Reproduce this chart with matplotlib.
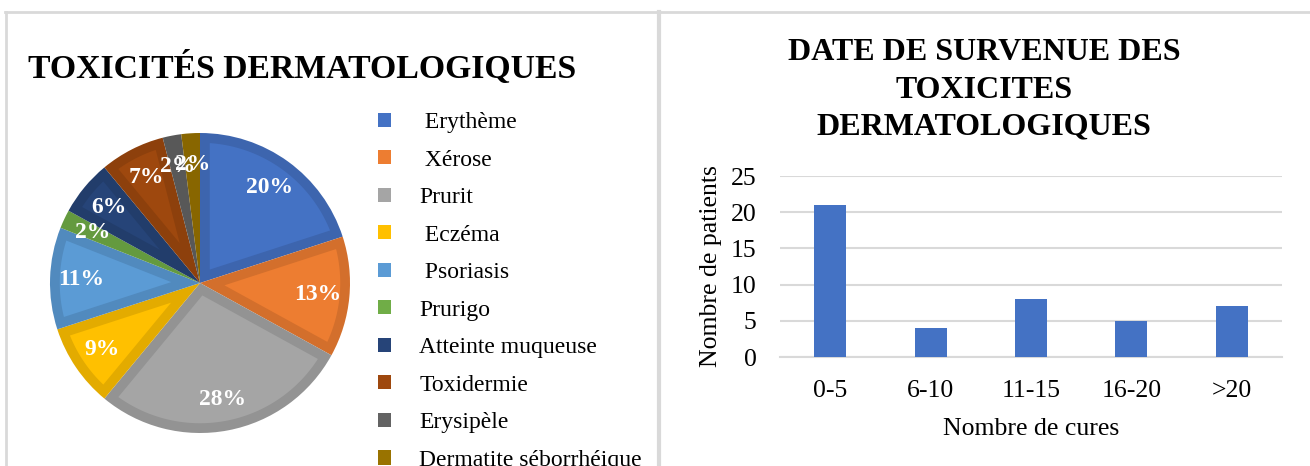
import matplotlib
matplotlib.use("Agg")
import numpy as np
import matplotlib.pyplot as plt
from matplotlib.patches import Patch, Polygon
from matplotlib.lines import Line2D
import matplotlib.colors as mcolors

plt.rcParams['font.family'] = ['Liberation Serif', 'DejaVu Serif']

# ---- data ----
pie_categories = [" Erythème", " Xérose", "Prurit", " Eczéma", " Psoriasis", "Prurigo",
                  "Atteinte muqueuse", "Toxidermie", "Erysipèle", "Dermatite séborrhéique"]
pie_values = [20, 13, 28, 9, 11, 2, 6, 7, 2, 2]
pie_colors = ["#4472C4", "#ED7D31", "#A5A5A5", "#FFC000", "#5B9BD5", "#70AD47",
              "#264478", "#9E480E", "#636363", "#997300"]

bar_categories = ["0-5", "6-10", "11-15", "16-20", ">20"]
bar_values = [21, 4, 8, 5, 7]
bar_color = "#4472C4"
y_ticks = [0, 5, 10, 15, 20, 25]

W, H = 1310, 466
fig = plt.figure(figsize=(W / 100, H / 100), dpi=100)


def rect(x0, y0, x1, y1):
    return [x0 / W, 1 - y1 / H, (x1 - x0) / W, (y1 - y0) / H]


def darker(c, f=0.89):
    r, g, b = mcolors.to_rgb(c)
    return (r * f, g * f, b * f)


# ---- panel frames ----
frame_col = "#D9D9D9"
fig.add_artist(Line2D([5 / W, 1], [1 - 12 / H, 1 - 12 / H], color=frame_col, lw=2, transform=fig.transFigure))
fig.add_artist(Line2D([6 / W, 6 / W], [0, 1 - 12 / H], color=frame_col, lw=2, transform=fig.transFigure))
fig.add_artist(Line2D([659 / W, 659 / W], [0, 1 - 12 / H], color=frame_col, lw=3, transform=fig.transFigure))

# ---- pie ----
axp = fig.add_axes(rect(50, 133, 350, 433))
wedges, texts, autotexts = axp.pie(
    pie_values, colors=[darker(c) for c in pie_colors], startangle=90, counterclock=False,
    autopct=lambda p: f"{p:.0f}%", pctdistance=0.79, radius=1,
    wedgeprops=dict(linewidth=0),
    textprops=dict(color="white", fontsize=17, fontweight="bold", zorder=5))

# inner (lighter) bevel region of each wedge, inset from the wedge edges
inset = 0.065
for w, c in zip(wedges, pie_colors):
    a1, a2 = np.radians(w.theta1), np.radians(w.theta2)
    R = w.r - inset
    half = (a2 - a1) / 2
    apex_d = inset / np.sin(half) if half < np.pi / 2 else 0.0
    delta = np.arcsin(inset / R)
    if apex_d >= R or a1 + delta >= a2 - delta:
        continue
    mid = (a1 + a2) / 2
    cx, cy = w.center
    apex = (cx + apex_d * np.cos(mid), cy + apex_d * np.sin(mid))
    ang = np.linspace(a1 + delta, a2 - delta, 80)
    pts = [apex] + [(cx + R * np.cos(t), cy + R * np.sin(t)) for t in ang]
    axp.add_patch(Polygon(pts, closed=True, facecolor=c, edgecolor="none", zorder=2))
for t in autotexts:
    t.set_zorder(5)
axp.set_xlim(-1, 1)
axp.set_ylim(-1, 1)

fig.text(28 / W, 1 - 68 / H, "TOXICITÉS DERMATOLOGIQUES", fontsize=24.3, fontweight="bold",
         ha="left", va="center")

handles = [Patch(facecolor=c, edgecolor="none") for c in pie_colors]
fig.legend(handles, pie_categories, loc="upper left", bbox_to_anchor=(378 / W, 1 - 112 / H),
           frameon=False, fontsize=17, handlelength=0.55, handleheight=0.55,
           handletextpad=1.2, labelspacing=0.7, borderpad=0, borderaxespad=0)

# ---- bar chart ----
axb = fig.add_axes(rect(780, 176, 1282, 357))
x = list(range(len(bar_categories)))
axb.bar(x, bar_values, width=0.32, color=bar_color, zorder=3)
axb.set_xlim(-0.5, len(bar_categories) - 0.5)
axb.set_ylim(0, 25)
axb.set_yticks(y_ticks)
axb.set_xticks(x)
axb.set_xticklabels(bar_categories)
axb.tick_params(axis="both", length=0, labelsize=18.5)
axb.tick_params(axis="y", pad=17)
axb.tick_params(axis="x", pad=16.5)
axb.grid(axis="y", color=frame_col, lw=1.5, zorder=0)
for s in ["top", "right", "left"]:
    axb.spines[s].set_visible(False)
axb.spines["bottom"].set_color(frame_col)
axb.spines["bottom"].set_linewidth(1.5)
axb.set_xlabel("Nombre de cures", fontsize=18.5, labelpad=11.5)
axb.set_ylabel("Nombre de patients", fontsize=18.5, labelpad=6.5)

for txt, yy in zip(["DATE DE SURVENUE DES", "TOXICITES", "DERMATOLOGIQUES"], [53, 90, 127]):
    fig.text(984 / W, 1 - yy / H, txt, fontsize=23, fontweight="bold", ha="center", va="center")

fig.savefig("out.png", dpi=100)
